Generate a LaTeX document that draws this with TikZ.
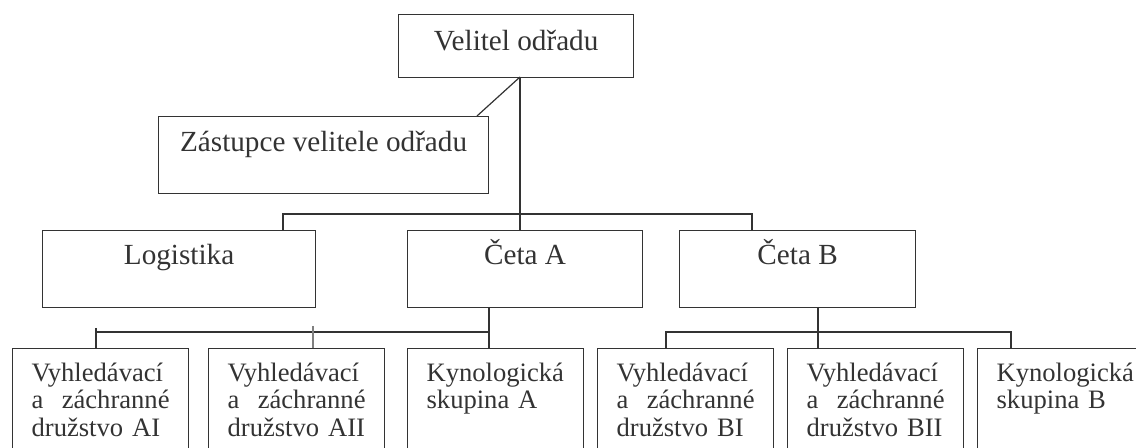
\documentclass[tikz,border=0pt]{standalone}
\usepackage{fontspec}
\setmainfont{Liberation Serif}
\definecolor{carasch}{gray}{0.2}
\hyphenpenalty=10000
\tikzset{
	box/.style={draw=carasch, line width=0.6pt, anchor=north west, inner xsep=0pt, inner ysep=0pt, font=\fontsize{14.6}{14}\selectfont},
	lead/.style={box, text height=18pt, text depth=13.5pt},
	unit/.style={box, text height=17pt, text depth=21.5pt},
	team/.style={box, inner xsep=9.5pt, text width=69pt, text height=16.3pt, text depth=55pt, font=\fontsize{13.3}{13.85}\selectfont},
}

\begin{document}
\begin{tikzpicture}[x=0.5pt,y=-0.5pt,carasch,line width=0.6pt]
			\useasboundingbox (0,0) rectangle (1136,448);
			\clip (0,0) rectangle (1136,448);
			\node[lead, minimum width=117.5pt] (velitel) at (398,14) {Velitel odřadu};
			\node[box, minimum width=165pt, text height=17.5pt, text depth=21pt] (zastupce) at (158,116) {Zástupce velitele odřadu};
			\node[unit, minimum width=136.5pt] (logistika) at (42,230) {Logistika};
			\node[unit, minimum width=117.5pt] (cetaA) at (407,230) {Četa A};
			\node[unit, minimum width=118pt] (cetaB) at (679,230) {Četa B};
			\node[team] (druzAI) at (12,348) {Vyhledávací\\a\hspace{0pt plus 1filll} záchranné\\družstvo AI};
			\node[team] (druzAII) at (208,348) {Vyhledávací\\a\hspace{0pt plus 1filll} záchranné\\družstvo AII};
			\node[team] (kynA) at (407,348) {Kynologická\\skupina A};
			\node[team] (druzBI) at (597,348) {Vyhledávací\\a\hspace{0pt plus 1filll} záchranné\\družstvo BI};
			\node[team] (druzBII) at (787,348) {Vyhledávací\\a\hspace{0pt plus 1filll} záchranné\\družstvo BII};
			\node[team] (kynB) at (977,348) {Kynologická\\skupina B};
			\coordinate (rozcesti) at (520,77);
			\coordinate (zasvrch) at (477,116);
			\coordinate (sbernL) at (283,214);
			\coordinate (sbernR) at (752,214);
			\coordinate (dolA) at (489,307);
			\coordinate (dolB) at (818,307);
			\coordinate (vetevAL) at (96,332);
			\coordinate (vetevAS) at (313,332);
			\coordinate (vetevBL) at (666,332);
			\coordinate (vetevBR) at (1011,332);
			\draw  (rozcesti)-- (rozcesti |- cetaA.north);
			\draw  (rozcesti)-- (zasvrch);
			\draw  (sbernL |- logistika.north)-- (sbernL)-- (sbernR)-- (sbernR |- cetaB.north);
			\draw  (dolA)-- (dolA |- kynA.north);
			\draw  (vetevAL)-- (vetevAL -| dolA);
			\draw  ([yshift=2]vetevAL)-- (vetevAL |- druzAI.north);
			\draw[gray]  ([yshift=3]vetevAS)-- (vetevAS |- druzAII.north);
			\draw  (dolB)-- (dolB |- druzBII.north);
			\draw  (vetevBL |- druzBI.north)-- (vetevBL)-- (vetevBR)-- (vetevBR |- kynB.north);
		\end{tikzpicture}
\end{document}
